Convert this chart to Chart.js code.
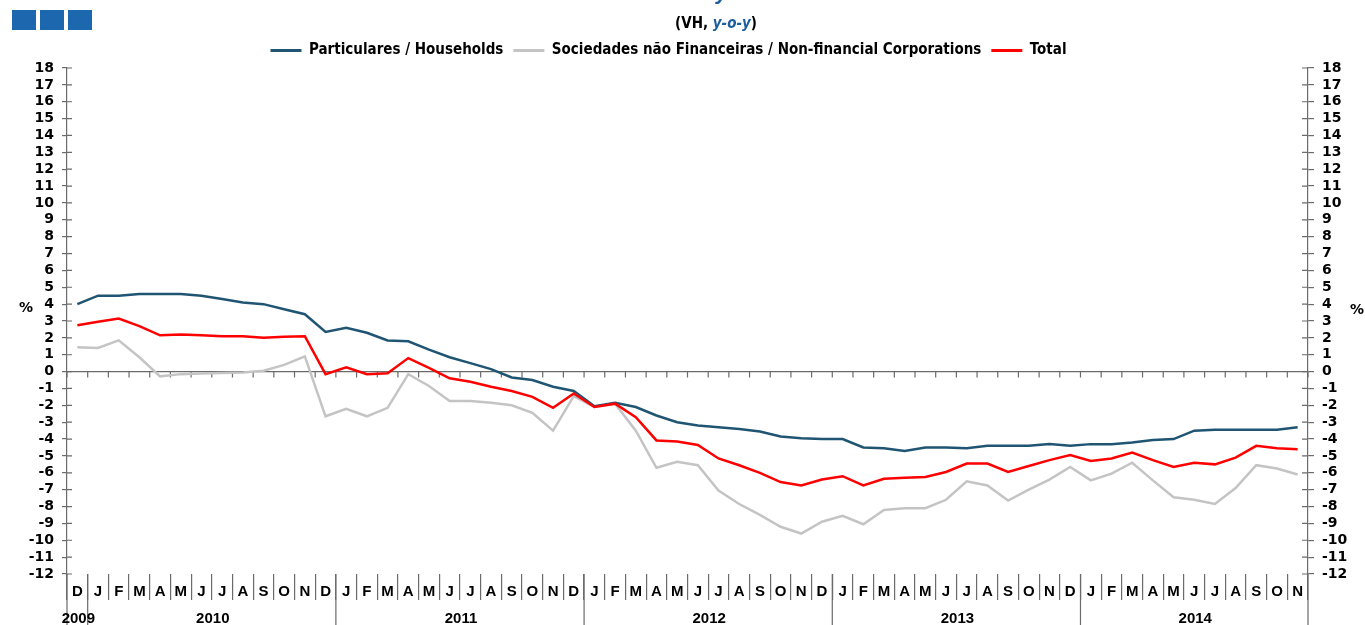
<!DOCTYPE html>
<html lang="en">

<head>
    <meta charset="UTF-8">
    <title>VH y-o-y</title>
    <style>
        body { margin: 0; background: #fff; }
        #wrap { position: relative; width: 1365px; height: 625px; }
    </style>
</head>

<body>
    <div id="wrap">
        <canvas id="myChart"></canvas>
    </div>

    <script src="https://cdn.jsdelivr.net/npm/chart.js"></script>

    <script>
        // categorias (meses) - D 2009 ate N 2014
        const months = ['D',
            'J', 'F', 'M', 'A', 'M', 'J', 'J', 'A', 'S', 'O', 'N', 'D',
            'J', 'F', 'M', 'A', 'M', 'J', 'J', 'A', 'S', 'O', 'N', 'D',
            'J', 'F', 'M', 'A', 'M', 'J', 'J', 'A', 'S', 'O', 'N', 'D',
            'J', 'F', 'M', 'A', 'M', 'J', 'J', 'A', 'S', 'O', 'N', 'D',
            'J', 'F', 'M', 'A', 'M', 'J', 'J', 'A', 'S', 'O', 'N'];

        // anos e indice do primeiro mes de cada ano
        const years = ['2009', '2010', '2011', '2012', '2013', '2014'];
        const yearStart = [0, 1, 13, 25, 37, 49];

        const households = [4.0, 4.5, 4.5, 4.6, 4.6, 4.6, 4.5, 4.3, 4.1, 4.0, 3.7, 3.4,
            2.35, 2.6, 2.3, 1.85, 1.8, 1.3, 0.85, 0.5, 0.15, -0.35, -0.5, -0.9,
            -1.15, -2.05, -1.85, -2.1, -2.6, -3.0, -3.2, -3.3, -3.4, -3.55, -3.85, -3.95,
            -4.0, -4.0, -4.5, -4.55, -4.7, -4.5, -4.5, -4.55, -4.4, -4.4, -4.4, -4.3,
            -4.4, -4.3, -4.3, -4.2, -4.05, -4.0, -3.5, -3.45, -3.45, -3.45, -3.45, -3.3];

        const corporations = [1.45, 1.4, 1.85, 0.85, -0.28, -0.15, -0.12, -0.08, -0.05, 0.05, 0.4, 0.9,
            -2.65, -2.2, -2.65, -2.15, -0.15, -0.85, -1.75, -1.75, -1.85, -2.0, -2.45, -3.5,
            -1.45, -2.1, -1.9, -3.5, -5.7, -5.35, -5.55, -7.05, -7.85, -8.5, -9.2, -9.6,
            -8.9, -8.55, -9.05, -8.2, -8.1, -8.1, -7.6, -6.5, -6.75, -7.65, -7.0, -6.4,
            -5.65, -6.45, -6.05, -5.4, -6.45, -7.45, -7.6, -7.85, -6.9, -5.55, -5.75, -6.1];

        const total = [2.75, 2.95, 3.15, 2.7, 2.15, 2.2, 2.15, 2.1, 2.1, 2.0, 2.07, 2.1,
            -0.15, 0.25, -0.15, -0.1, 0.8, 0.22, -0.4, -0.6, -0.9, -1.15, -1.5, -2.15,
            -1.3, -2.1, -1.9, -2.7, -4.08, -4.15, -4.35, -5.15, -5.55, -6.0, -6.55, -6.75,
            -6.4, -6.2, -6.75, -6.35, -6.3, -6.25, -5.95, -5.45, -5.45, -5.95, -5.6, -5.25,
            -4.95, -5.3, -5.15, -4.8, -5.25, -5.65, -5.4, -5.5, -5.1, -4.4, -4.55, -4.6];

        const yMin = -12;
        const yMax = 18;

        const axisColor = '#6b6b6b';
        const tickFont = { family: 'DejaVu Sans', size: 14, weight: 'bold' };
        const labelFont = { family: 'Liberation Sans', size: 15, weight: 'bold' };
        const narrowFont = "'Liberation Sans Narrow', 'DejaVu Sans Condensed', sans-serif";

        // enfeites: logotipo, subtitulo, %, linha do zero, separadores dos anos
        const decor = {
            id: 'decor',
            afterLayout(chart) {
                // legenda um pouco mais a esquerda, como no original
                chart.legend.left -= 14;
                chart.legend.right -= 14;
            },
            beforeDatasetsDraw(chart) {
                const { ctx, chartArea, scales } = chart;
                const x = scales.x;
                const y0 = scales.y.getPixelForValue(0);
                ctx.save();
                ctx.strokeStyle = axisColor;
                ctx.lineWidth = 1.2;
                ctx.beginPath();
                ctx.moveTo(chartArea.left, y0);
                ctx.lineTo(chartArea.right, y0);
                // marcas entre os meses, para baixo
                const half = (x.getPixelForValue(1) - x.getPixelForValue(0)) / 2;
                for (let i = 0; i <= months.length; i++) {
                    const px = x.getPixelForValue(i) - half;
                    ctx.moveTo(px, y0);
                    ctx.lineTo(px, y0 + 6);
                }
                ctx.stroke();
                ctx.restore();
            },
            afterDraw(chart) {
                const { ctx, chartArea, scales } = chart;
                const x = scales.x;
                const y = scales.y;
                const half = (x.getPixelForValue(1) - x.getPixelForValue(0)) / 2;
                ctx.save();

                // tres quadrados azuis
                ctx.fillStyle = '#1c67ae';
                for (let i = 0; i < 3; i++) {
                    ctx.fillRect(12 + i * 28, 10, 24, 20);
                }

                // resto do titulo cortado
                ctx.fillStyle = '#1c5e9e';
                ctx.font = "italic bold 22px 'Liberation Sans'";
                ctx.textAlign = 'left';
                ctx.textBaseline = 'alphabetic';
                ctx.fillText('y', 716, -1);

                // subtitulo (VH, y-o-y)
                const p1 = '(VH, ', p2 = 'y-o-y', p3 = ')';
                ctx.font = 'bold 15px ' + narrowFont;
                const w1 = ctx.measureText(p1).width;
                const w3 = ctx.measureText(p3).width;
                ctx.font = 'italic bold 15px ' + narrowFont;
                const w2 = ctx.measureText(p2).width;
                let sx = 716 - (w1 + w2 + w3) / 2;
                ctx.textBaseline = 'middle';
                ctx.font = 'bold 15px ' + narrowFont;
                ctx.fillStyle = '#000';
                ctx.fillText(p1, sx, 24);
                ctx.font = 'italic bold 15px ' + narrowFont;
                ctx.fillStyle = '#1c5e9e';
                ctx.fillText(p2, sx + w1, 24);
                ctx.font = 'bold 15px ' + narrowFont;
                ctx.fillStyle = '#000';
                ctx.fillText(p3, sx + w1 + w2, 24);

                // %
                ctx.font = 'bold 14px DejaVu Sans';
                ctx.textAlign = 'center';
                ctx.fillText('%', 26, 308);
                ctx.fillText('%', 1357, 310);

                // marcas dos eixos y para dentro
                ctx.strokeStyle = axisColor;
                ctx.lineWidth = 1.2;
                ctx.beginPath();
                for (let v = yMin; v <= yMax; v++) {
                    const py = y.getPixelForValue(v);
                    ctx.moveTo(chartArea.left, py);
                    ctx.lineTo(chartArea.left + 5, py);
                    ctx.moveTo(chartArea.right - 6, py);
                    ctx.lineTo(chartArea.right, py);
                }
                // eixos prolongados ate ao fundo
                ctx.moveTo(chartArea.left, chartArea.bottom);
                ctx.lineTo(chartArea.left, chart.height);
                ctx.moveTo(chartArea.right, chartArea.bottom);
                ctx.lineTo(chartArea.right, chart.height);
                // separadores dos anos
                for (let k = 1; k < yearStart.length; k++) {
                    const px = x.getPixelForValue(yearStart[k]) - half;
                    ctx.moveTo(px, chartArea.bottom);
                    ctx.lineTo(px, chart.height);
                }
                ctx.stroke();

                // anos
                ctx.fillStyle = '#000';
                ctx.font = "bold 15px 'Liberation Sans'";
                ctx.textAlign = 'center';
                ctx.textBaseline = 'middle';
                for (let k = 0; k < years.length; k++) {
                    const a = yearStart[k];
                    const b = k + 1 < yearStart.length ? yearStart[k + 1] - 1 : months.length - 1;
                    const px = (x.getPixelForValue(a) + x.getPixelForValue(b)) / 2;
                    ctx.fillText(years[k], px + 1, 619);
                }
                ctx.restore();
            }
        };

        const ctx = document.getElementById('myChart');

        let chart = new Chart(ctx, {
            type: 'line',
            data: {
                labels: months,
                datasets: [{
                    label: 'Particulares / Households',
                    data: households,
                    borderColor: '#1f5573',
                    backgroundColor: '#1f5573',
                    borderWidth: 2.5,
                    pointRadius: 0,
                    order: 1
                },
                {
                    label: 'Sociedades não Financeiras / Non-financial Corporations',
                    data: corporations,
                    borderColor: '#c4c4c4',
                    backgroundColor: '#c4c4c4',
                    borderWidth: 2.5,
                    pointRadius: 0,
                    order: 2
                },
                {
                    label: 'Total',
                    data: total,
                    borderColor: '#ff0000',
                    backgroundColor: '#ff0000',
                    borderWidth: 2.5,
                    pointRadius: 0,
                    order: 0
                }]
            },
            options: {
                responsive: true,
                maintainAspectRatio: false,
                animation: false,
                layout: { padding: { top: 33, left: 0, right: 0, bottom: 0 } },
                plugins: {
                    tooltip: { enabled: false },
                    legend: {
                        position: 'top',
                        labels: {
                            boxWidth: 31,
                            boxHeight: 3,
                            padding: 10,
                            color: '#000',
                            font: { family: narrowFont, size: 15, weight: 'bold' },
                            generateLabels(c) {
                                return c.data.datasets.map((ds, i) => ({
                                    text: ds.label,
                                    fillStyle: ds.borderColor,
                                    strokeStyle: ds.borderColor,
                                    lineWidth: 0,
                                    hidden: false,
                                    datasetIndex: i,
                                    fontColor: '#000'
                                }));
                            }
                        }
                    }
                },
                scales: {
                    x: {
                        offset: true,
                        grid: { offset: true, drawOnChartArea: false, tickLength: 26, color: axisColor, lineWidth: 1.2 },
                        border: { display: false },
                        ticks: { autoSkip: false, maxRotation: 0, padding: -17, color: '#000', font: labelFont },
                        afterFit(s) { s.height = 51; }
                    },
                    y: {
                        position: 'left',
                        min: yMin,
                        max: yMax,
                        ticks: { stepSize: 1, autoSkip: false, padding: 8, color: '#000', font: tickFont },
                        grid: { drawOnChartArea: false, tickLength: 5, color: axisColor, lineWidth: 1.2 },
                        border: { color: axisColor, width: 1.2 },
                        afterFit(s) { s.width = 67; }
                    },
                    y2: {
                        position: 'right',
                        min: yMin,
                        max: yMax,
                        ticks: { stepSize: 1, autoSkip: false, padding: 8, color: '#000', font: tickFont },
                        grid: { drawOnChartArea: false, tickLength: 6, color: axisColor, lineWidth: 1.2 },
                        border: { color: axisColor, width: 1.2 },
                        afterFit(s) { s.width = 57; }
                    }
                }
            },
            plugins: [decor]
        });
    </script>
</body>

</html>
